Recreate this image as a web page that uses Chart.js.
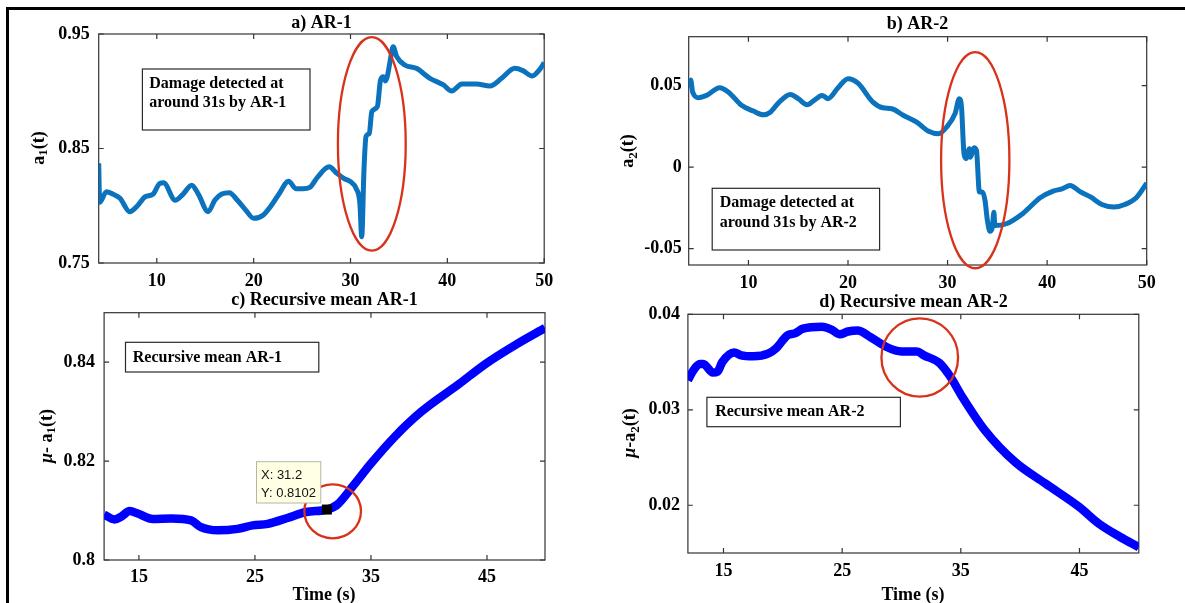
<!DOCTYPE html>
<html>
<head>
<meta charset="utf-8">
<script src="https://cdn.jsdelivr.net/npm/chart.js@4"></script>
<style>
html, body { margin: 0; padding: 0; background: #fff; overflow: hidden; }
#fig { position: relative; width: 1185px; height: 603px; }
#fig canvas { position: absolute; left: 0; top: 0; }
</style>
</head>
<body>
<div id="fig">
  <canvas id="frame" width="1185" height="603"></canvas>
  <canvas id="pa" width="1185" height="603"></canvas>
  <canvas id="pb" width="1185" height="603"></canvas>
  <canvas id="pc" width="1185" height="603"></canvas>
  <canvas id="pd" width="1185" height="603"></canvas>
</div>
<script>
'use strict'

const W = 1185, H = 603;
const Y_AXIS_W = 70, X_AXIS_H = 40;

// a) AR-1 coefficient over time
const tA = [4.0, 4.1, 4.8, 5.5, 6.2, 7.2, 8.0, 8.8, 9.6, 10.3, 10.7, 11.9, 12.7, 13.6, 14.3, 15.3, 16.0, 16.7, 17.5, 18.3,
  19.2, 20.0, 21.0, 21.8, 22.6, 23.6, 24.4, 25.1, 25.8, 26.6, 27.8, 28.6, 29.3, 30.0, 30.6, 30.97, 31.16, 31.39, 31.6, 31.94,
  32.2, 32.77, 33.1, 33.4, 33.6, 33.8, 34.08, 34.4, 34.77, 35.6, 36.8, 38.2, 39.6, 40.45, 41.5, 43.0, 44.4, 45.6, 46.97, 47.8,
  48.76, 49.5, 50.0];
const ar1 = [0.8371, 0.8030, 0.8123, 0.8100, 0.8065, 0.7948, 0.8000, 0.8079, 0.8100, 0.8195, 0.8200, 0.8048, 0.8100, 0.8180, 0.8100, 0.7948, 0.8050, 0.8103, 0.8114, 0.8050,
  0.7960, 0.7890, 0.7920, 0.8000, 0.8100, 0.8213, 0.8148, 0.8148, 0.8160, 0.8250, 0.8340, 0.8283, 0.8240, 0.8210, 0.8148, 0.8017, 0.7729, 0.8312, 0.8603, 0.8633,
  0.8821, 0.8865, 0.9098, 0.9127, 0.9090, 0.9130, 0.9258, 0.9389, 0.9302, 0.9229, 0.9200, 0.9113, 0.9055, 0.9002, 0.9063, 0.9063, 0.9046, 0.9113, 0.9200, 0.9180,
  0.9133, 0.9186, 0.9250];

// b) AR-2 coefficient over time
const tB = [4.0, 4.2, 4.4, 5.0, 5.8, 7.1, 8.0, 9.3, 10.5, 11.5, 12.2, 13.0, 14.2, 15.0, 15.9, 16.6, 17.4, 18.0, 19.0, 20.0,
  21.0, 22.5, 23.5, 24.4, 25.5, 26.9, 28.1, 29.1, 29.9, 30.75, 31.18, 31.4, 31.65, 31.85, 32.2, 32.3, 32.65, 32.9, 33.2, 33.5,
  33.76, 34.0, 34.26, 34.5, 34.65, 34.75, 35.9, 37.6, 39.3, 40.6, 41.5, 42.3, 43.3, 44.4, 45.5, 46.7, 47.8, 49.0, 50.0];
const ar2 = [0.0490, 0.0535, 0.0460, 0.0426, 0.0440, 0.0487, 0.0460, 0.0379, 0.0344, 0.0321, 0.0337, 0.0393, 0.0446, 0.0420, 0.0383, 0.0410, 0.0440, 0.0420, 0.0487, 0.0542,
  0.0515, 0.0399, 0.0364, 0.0358, 0.0320, 0.0276, 0.0220, 0.0205, 0.0245, 0.0328, 0.0420, 0.0368, 0.0082, 0.0052, 0.0113, 0.0061, 0.0119, 0.0102, -0.0153, -0.0153,
  -0.0204, -0.0327, -0.0393, -0.0368, -0.0276, -0.0358, -0.0347, -0.0282, -0.0188, -0.0147, -0.0133, -0.0112, -0.0150, -0.0184, -0.0229, -0.0245, -0.0229, -0.0184, -0.0098];

// c) recursive mean of AR-1
const tC = [12.0, 12.9, 13.5, 14.2, 14.9, 16.2, 17.8, 19.5, 20.3, 21.8, 23.5, 24.8, 26.1, 27.8, 29.4, 31.2, 32.1, 33.4, 35.0, 37.0,
  39.3, 42.6, 44.9, 47.6, 50.0];
const meanAr1 = [0.8092, 0.8082, 0.8088, 0.8099, 0.8094, 0.8083, 0.8084, 0.8080, 0.8067, 0.8060, 0.8063, 0.8070, 0.8073, 0.8085, 0.8097, 0.8102, 0.8112, 0.8148, 0.8195, 0.8248,
  0.8299, 0.8356, 0.8397, 0.8437, 0.8469];

// d) recursive mean of AR-2
const tD = [12.0, 12.5, 13.0, 13.3, 14.1, 14.5, 14.9, 15.9, 16.5, 17.5, 18.8, 19.4, 20.4, 21.0, 21.7, 23.3, 24.1, 24.8, 25.5, 26.3,
  27.4, 28.7, 30.0, 31.3, 31.9, 33.2, 34.1, 35.1, 37.0, 39.6, 42.1, 45.0, 46.6, 48.4, 50.0];
const meanAr2 = [0.0331, 0.0342, 0.0348, 0.0348, 0.0339, 0.0340, 0.0350, 0.0360, 0.0357, 0.0356, 0.0359, 0.0364, 0.0378, 0.0380, 0.0385, 0.0387, 0.0384, 0.0379, 0.0382, 0.0383,
  0.0376, 0.0366, 0.0361, 0.0361, 0.0357, 0.0349, 0.0335, 0.0314, 0.0279, 0.0245, 0.0223, 0.0198, 0.0181, 0.0167, 0.0156];

// tick values and their labels
const xTicksAB = [10, 20, 30, 40, 50];
const xTicksCD = [15, 25, 35, 45];
const yTicksA = [0.75, 0.85, 0.95];
const yLabelsA = ['0.75', '0.85', '0.95'];
const yTicksB = [-0.05, 0, 0.05];
const yLabelsB = ['-0.05', '0', '0.05'];
const yTicksC = [0.8, 0.82, 0.84];
const yLabelsC = ['0.8', '0.82', '0.84'];
const yTicksD = [0.02, 0.03, 0.04];
const yLabelsD = ['0.02', '0.03', '0.04'];

// data cursor on the recursive mean
const tipX = 31.2;
const tipY = 0.8102;

const SERIF = '"Liberation Serif", "Times New Roman", serif';
const RED = '#d8321a';

// outer figure frame
(function () {
  const ctx = document.getElementById('frame').getContext('2d');
  ctx.fillStyle = '#000';
  ctx.fillRect(6, 7, W - 6, 3);
  ctx.fillRect(6, 7, 3, H - 7);
})();

function richText(ctx, parts, bx, cy) {
  // rotated y label, reading upwards, baseline at screen x = bx
  ctx.save();
  ctx.translate(bx, cy);
  ctx.rotate(-Math.PI / 2);
  let total = 0;
  parts.forEach(p => { ctx.font = p.font; total += ctx.measureText(p.t).width; });
  let x = -total / 2;
  ctx.fillStyle = '#000';
  ctx.textBaseline = 'alphabetic';
  ctx.textAlign = 'left';
  parts.forEach(p => {
    ctx.font = p.font;
    ctx.fillText(p.t, x, p.dy || 0);
    x += ctx.measureText(p.t).width;
  });
  ctx.restore();
}

function makePanel(id, p) {
  const decor = {
    id: 'decor_' + id,
    beforeDatasetsDraw(chart) {
      const {ctx, chartArea: a, scales: {x, y}} = chart;
      ctx.save();
      ctx.strokeStyle = '#333';
      ctx.lineWidth = 1.2;
      ctx.strokeRect(a.left, a.top, a.right - a.left, a.bottom - a.top);
      ctx.beginPath();
      x.ticks.forEach(t => {
        const px = x.getPixelForValue(t.value);
        ctx.moveTo(px, a.bottom); ctx.lineTo(px, a.bottom - 5);
        ctx.moveTo(px, a.top); ctx.lineTo(px, a.top + 5);
      });
      y.ticks.forEach(t => {
        const py = y.getPixelForValue(t.value);
        ctx.moveTo(a.left, py); ctx.lineTo(a.left + 5, py);
        ctx.moveTo(a.right, py); ctx.lineTo(a.right - 5, py);
      });
      ctx.stroke();
      ctx.restore();
    },
    afterDatasetsDraw(chart) {
      const {ctx, scales: {x, y}} = chart;
      ctx.save();
      // title
      ctx.fillStyle = '#000';
      ctx.font = 'bold 18px ' + SERIF;
      ctx.textAlign = 'center';
      ctx.textBaseline = 'alphabetic';
      ctx.fillText(p.title, p.titlePos[0], p.titlePos[1]);
      if (p.xTitle) ctx.fillText(p.xTitle, p.xTitlePos[0], p.xTitlePos[1]);
      richText(ctx, p.yTitle, p.yTitlePos[0], p.yTitlePos[1]);

      // red ring around the change
      const e = p.ring;
      const cx = x.getPixelForValue(e.t), cy = y.getPixelForValue(e.v);
      const rx = Math.abs(x.getPixelForValue(e.t + e.rt) - cx);
      const ry = Math.abs(y.getPixelForValue(e.v + e.rv) - cy);
      ctx.strokeStyle = RED;
      ctx.lineWidth = 2.3;
      ctx.beginPath();
      ctx.ellipse(cx, cy, rx, ry, 0, 0, Math.PI * 2);
      ctx.stroke();

      // text box
      const b = p.box;
      ctx.fillStyle = '#fff';
      ctx.fillRect(b.rect[0], b.rect[1], b.rect[2] - b.rect[0], b.rect[3] - b.rect[1]);
      ctx.strokeStyle = '#2a2a2a';
      ctx.lineWidth = 1.2;
      ctx.strokeRect(b.rect[0], b.rect[1], b.rect[2] - b.rect[0], b.rect[3] - b.rect[1]);
      ctx.fillStyle = '#000';
      ctx.font = 'bold 16px ' + SERIF;
      ctx.textAlign = 'left';
      b.lines.forEach((s, i) => ctx.fillText(s, b.x, b.base[i]));

      // data cursor
      if (p.tip) {
        const mx = x.getPixelForValue(tipX), my = y.getPixelForValue(tipY);
        ctx.fillStyle = '#000';
        ctx.fillRect(mx - 5, my - 5, 10, 10);
        const r = p.tip.rect;
        ctx.fillStyle = '#ffffe4';
        ctx.fillRect(r[0], r[1], r[2] - r[0], r[3] - r[1]);
        ctx.strokeStyle = '#b5b5a8';
        ctx.lineWidth = 1;
        ctx.strokeRect(r[0], r[1], r[2] - r[0], r[3] - r[1]);
        ctx.fillStyle = '#111';
        ctx.font = '13px "Liberation Sans", Arial, sans-serif';
        ctx.fillText('X: ' + tipX, p.tip.x, p.tip.base[0]);
        ctx.fillText('Y: ' + tipY, p.tip.x, p.tip.base[1]);
      }
      ctx.restore();
    }
  };

  const tickFont = {family: SERIF, size: 18, weight: 'bold'};
  return new Chart(document.getElementById(id), {
    type: 'line',
    data: {
      datasets: [{
        data: p.t.map((t, i) => ({x: t, y: p.v[i]})),
        borderColor: p.color,
        borderWidth: p.lw,
        pointRadius: 0,
        cubicInterpolationMode: 'monotone',
        fill: false
      }]
    },
    options: {
      responsive: false,
      animation: false,
      events: [],
      layout: {
        autoPadding: false,
        padding: {
          left: p.area[0] - Y_AXIS_W,
          top: p.area[1],
          right: W - p.area[2],
          bottom: H - p.area[3] - X_AXIS_H
        }
      },
      plugins: {legend: {display: false}, tooltip: {enabled: false}},
      scales: {
        x: {
          type: 'linear',
          min: p.xRange[0],
          max: p.xRange[1],
          grid: {display: false, drawTicks: false},
          border: {display: false},
          ticks: {font: tickFont, color: '#000', padding: p.xPad, maxRotation: 0, autoSkip: false},
          afterBuildTicks: s => { s.ticks = p.xTicks.map(v => ({value: v})); },
          afterFit: s => { s.height = X_AXIS_H; s.paddingLeft = 0; s.paddingRight = 0; }
        },
        y: {
          type: 'linear',
          min: p.yRange[0],
          max: p.yRange[1],
          grid: {display: false, drawTicks: false},
          border: {display: false},
          ticks: {font: tickFont, color: '#000', padding: p.yPad, autoSkip: false,
            callback: (v, i) => p.yLabels[i]},
          afterBuildTicks: s => { s.ticks = p.yTicks.map(v => ({value: v})); },
          afterFit: s => { s.width = Y_AXIS_W; s.paddingTop = 0; s.paddingBottom = 0; }
        }
      }
    },
    plugins: [decor]
  });
}

const bold = 'bold 18px ' + SERIF;
const sub = 'bold 13px ' + SERIF;
const mu = 'italic bold 18px ' + SERIF;

makePanel('pa', {
  t: tA, v: ar1, color: '#0b72bd', lw: 5,
  area: [98.7, 34, 544.2, 263], xRange: [4, 50], yRange: [0.75, 0.95],
  xTicks: xTicksAB, yTicks: yTicksA, yLabels: yLabelsA, xPad: 8, yPad: 9,
  title: 'a) AR-1', titlePos: [321.5, 27.5],
  yTitle: [{t: 'a', font: bold}, {t: '1', font: sub, dy: 3.5}, {t: '(t)', font: bold}], yTitlePos: [43.5, 148],
  ring: {t: 32.2, v: 0.854, rt: 3.5, rv: 0.0932},
  box: {rect: [142.4, 69, 310, 130], x: 149.3, base: [87.5, 106.5], lines: ['Damage detected at', 'around 31s by AR-1']}
});

makePanel('pb', {
  t: tB, v: ar2, color: '#0b72bd', lw: 5,
  area: [688.7, 36.7, 1146.7, 265], xRange: [4, 50], yRange: [-0.06, 0.08],
  xTicks: xTicksAB, yTicks: yTicksB, yLabels: yLabelsB, xPad: 7.5, yPad: 7,
  title: 'b) AR-2', titlePos: [917.5, 29.3],
  yTitle: [{t: 'a', font: bold}, {t: '2', font: sub, dy: 3.5}, {t: '(t)', font: bold}], yTitlePos: [633, 151],
  ring: {t: 32.78, v: 0.0043, rt: 3.43, rv: 0.0663},
  box: {rect: [712.2, 188.3, 879.6, 250], x: 719.8, base: [207.3, 226.5], lines: ['Damage detected at', 'around 31s by AR-2']}
});

makePanel('pc', {
  t: tC, v: meanAr1, color: '#0000ff', lw: 8.5,
  area: [104.1, 312.7, 545, 560], xRange: [12, 50], yRange: [0.8, 0.85],
  xTicks: xTicksCD, yTicks: yTicksC, yLabels: yLabelsC, xPad: 7, yPad: 9,
  title: 'c) Recursive mean AR-1', titlePos: [324.5, 305],
  xTitle: 'Time (s)', xTitlePos: [324, 600],
  yTitle: [{t: 'μ', font: mu}, {t: '- a', font: bold}, {t: '1', font: sub, dy: 3.5}, {t: '(t)', font: bold}], yTitlePos: [51.5, 436],
  ring: {t: 31.7, v: 0.80985, rt: 2.44, rv: 0.00546},
  box: {rect: [125.5, 342.3, 318.8, 372], x: 132.8, base: [361.7], lines: ['Recursive mean AR-1']},
  tip: {rect: [256.5, 461.7, 320.8, 503], x: 261, base: [479.3, 496.7]}
});

makePanel('pd', {
  t: tD, v: meanAr2, color: '#0000ff', lw: 8.5,
  area: [687.9, 314.3, 1138.8, 553], xRange: [12, 50], yRange: [0.015, 0.04],
  xTicks: xTicksCD, yTicks: yTicksD, yLabels: yLabelsD, xPad: 8, yPad: 8,
  title: 'd) Recursive mean AR-2', titlePos: [913.4, 306.5],
  xTitle: 'Time (s)', xTitlePos: [913, 600],
  yTitle: [{t: 'μ', font: mu}, {t: '-a', font: bold}, {t: '2', font: sub, dy: 3.5}, {t: '(t)', font: bold}], yTitlePos: [635, 433],
  ring: {t: 31.54, v: 0.03548, rt: 3.23, rv: 0.0041},
  box: {rect: [706.9, 397.3, 900.4, 426.7], x: 715.2, base: [416], lines: ['Recursive mean AR-2']}
});
</script>
</body>
</html>
